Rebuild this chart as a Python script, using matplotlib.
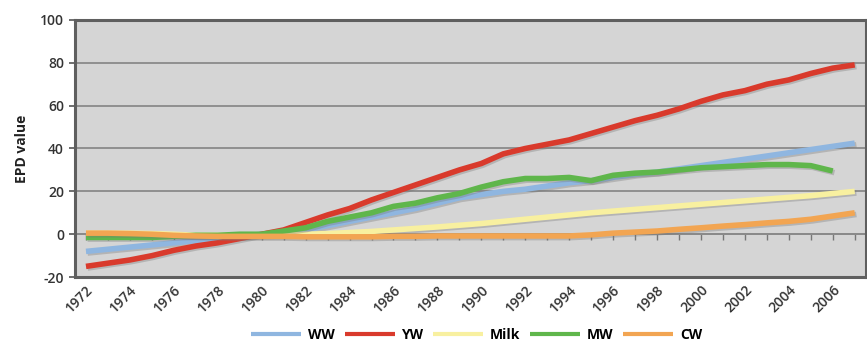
import matplotlib.pyplot as plt
import matplotlib.patheffects as pe

years = list(range(1972, 2008))

ww = [-8, -7, -6, -5, -4, -3, -2, -1, 0, 1, 2, 4, 6, 8, 10, 12, 14.5, 17, 18.5, 20,
      21, 22.5, 24, 25, 26.5, 28, 29, 30.5, 32, 33.5, 35, 36.5, 38, 39.5, 41, 42.5]
yw = [-15, -13.5, -12, -10, -7.5, -5.5, -4, -2, 0, 2, 5.5, 9, 12, 16, 19.5, 23, 26.5,
      30, 33, 37.5, 40, 42, 44, 47, 50, 53, 55.5, 58.5, 62, 65, 67, 70, 72, 75, 77.5, 79]
milk = [0.5, 0.5, 0.5, 0.3, 0, -0.5, -0.5, -0.5, -0.5, -0.3, 0, 0.3, 0.8, 1.3, 2, 2.7,
        3.4, 4.2, 5, 6, 7, 8, 9, 10, 10.8, 11.6, 12.4, 13.2, 14, 14.8, 15.6, 16.4, 17.2,
        18, 19, 20]
mw = [-1.5, -1.5, -1.5, -1.5, -1, -0.5, -0.5, 0, 0, 1.5, 3, 6, 8, 10, 13, 14.5, 17, 19,
      22, 24.5, 26, 26, 26.5, 25, 27.5, 28.5, 29, 30, 31, 31.5, 32, 32.5, 32.5, 32, 29.5]
cw = [0.5, 0.5, 0.3, 0, -0.5, -0.8, -1, -1, -1, -1, -1.2, -1.2, -1.2, -1.2, -1, -1,
      -0.8, -0.8, -0.8, -0.8, -0.8, -0.8, -0.8, -0.3, 0.5, 1, 1.5, 2.3, 3, 3.8, 4.5,
      5.3, 6, 7, 8.5, 10]

series = [("WW", ww, "#8fb6e0"), ("YW", yw, "#d93a2c"), ("Milk", milk, "#f8f0a0"),
          ("MW", mw, "#5fb64b"), ("CW", cw, "#f2a552")]

plt.rcParams['font.family'] = ['Open Sans', 'DejaVu Sans']
plt.rcParams['axes.unicode_minus'] = False

fig = plt.figure(figsize=(8.67, 3.49), dpi=100)
ax = fig.add_axes([0.0865, 0.206, 0.912, 0.737])
ax.set_facecolor("#d5d5d5")

shadow = [pe.SimpleLineShadow(offset=(1.2, -1.2), shadow_color="#777777", alpha=0.35),
          pe.Normal()]
for name, vals, col in series:
    ax.plot(years[:len(vals)], vals, color=col, lw=4, label=name,
            solid_capstyle="butt", path_effects=shadow, zorder=3)

ax.set_xlim(1971.5, 2007.5)
ax.set_ylim(-20, 100)
ax.set_yticks(range(-20, 101, 20))
ax.set_xticks(years[::2])
ax.set_xticklabels([str(y) for y in years[::2]], rotation=45, ha="right",
                   rotation_mode="anchor", fontsize=10, color="#333333")
ax.tick_params(axis="x", length=0, pad=4)
ax.tick_params(axis="y", length=4, width=1.2, color="#555555", labelsize=10,
               labelcolor="#333333", pad=4)
for t in ax.get_yticklabels() + ax.get_xticklabels():
    t.set_fontweight("semibold")

ax.grid(axis="y", color="#8a8a8a", lw=1.3, zorder=1)
for s in ax.spines.values():
    s.set_color("#5f5f5f")
    s.set_linewidth(2.2)

# category axis crossing at zero with yearly tick marks
zero_axis = ax.secondary_xaxis(20 / 120)
zero_axis.set_xticks(years)
zero_axis.set_xticklabels([])
zero_axis.tick_params(length=4, width=1, color="#777777", direction="out")
zero_axis.spines["bottom"].set_color("#8a8a8a")
zero_axis.spines["bottom"].set_linewidth(1.3)

ax.set_ylabel("EPD value", fontsize=10, fontweight="bold", color="#222222", labelpad=8)

leg = fig.legend(loc="lower center", bbox_to_anchor=(0.55, -0.015), ncol=5,
                 frameon=False, handlelength=3.6, columnspacing=0.7,
                 handletextpad=0.5, prop={"weight": "bold", "size": 10})
for line in leg.get_lines():
    line.set_linewidth(3)
    line.set_path_effects([])

fig.savefig("out.png", dpi=100)
